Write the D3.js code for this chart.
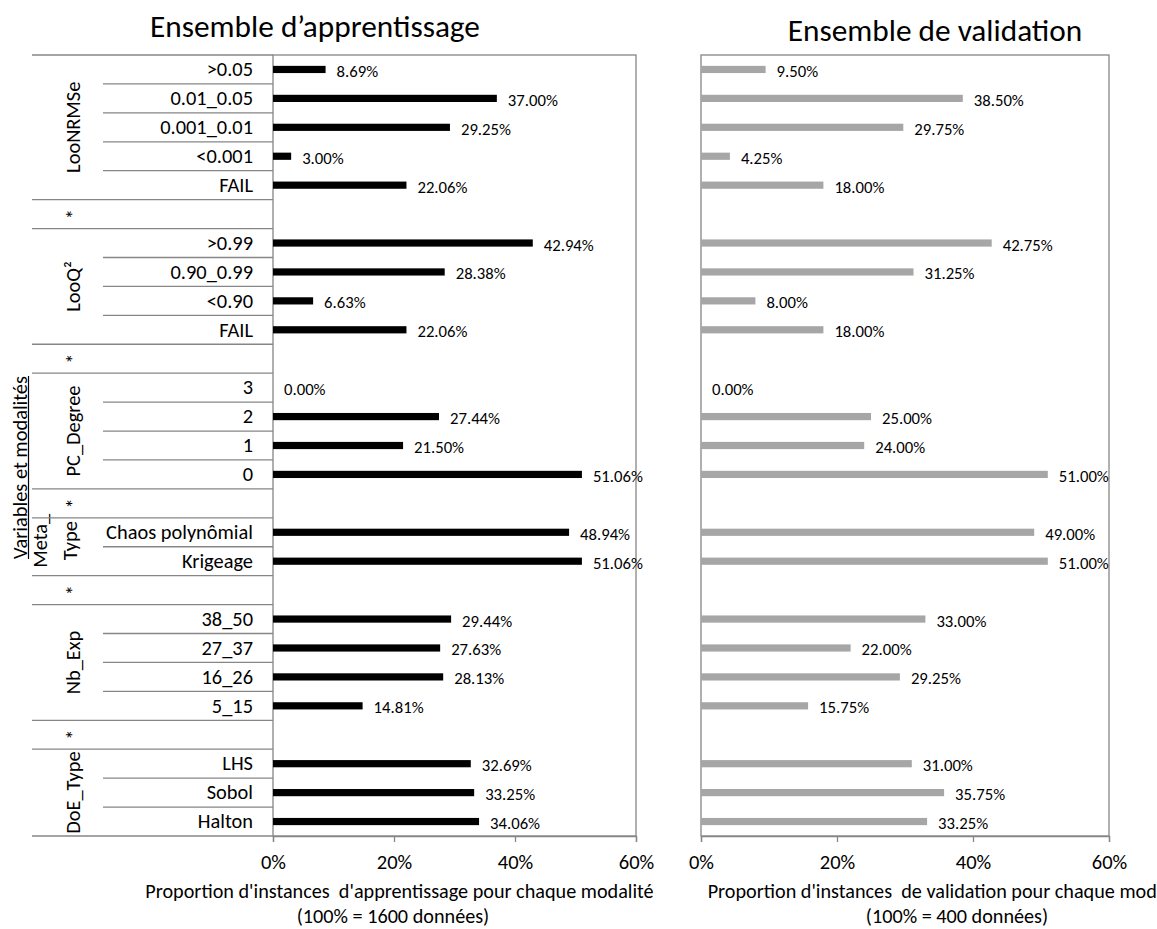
<!DOCTYPE html>
<html><head><meta charset="utf-8">
<script src="https://cdn.jsdelivr.net/npm/d3@7"></script>
<style>
html,body{margin:0;padding:0;background:#fff;}
svg{display:block;font-family:Carlito,Calibri,Lato,sans-serif;}
</style></head>
<body>
<svg id="chart" width="1157" height="929"></svg>
<script>
// ---- data ----
const groupNames = ["LooNRMSe","*","LooQ²","*","PC_Degree","*","Meta_|Type","*","Nb_Exp","*","DoE_Type"];
const groupSizes = [5,1,4,1,4,1,2,1,4,1,3];
const modalities = [">0.05","0.01_0.05","0.001_0.01","<0.001","FAIL","",
  ">0.99","0.90_0.99","<0.90","FAIL","",
  "3","2","1","0","",
  "Chaos polynômial","Krigeage","",
  "38_50","27_37","16_26","5_15","",
  "LHS","Sobol","Halton"];
const trainValues = [8.69,37.00,29.25,3.00,22.06,null,
  42.94,28.38,6.63,22.06,null,
  0.00,27.44,21.50,51.06,null,
  48.94,51.06,null,
  29.44,27.63,28.13,14.81,null,
  32.69,33.25,34.06];
const validValues = [9.50,38.50,29.75,4.25,18.00,null,
  42.75,31.25,8.00,18.00,null,
  0.00,25.00,24.00,51.00,null,
  49.00,51.00,null,
  33.00,22.00,29.25,15.75,null,
  31.00,35.75,33.25];
const xTicks = [0,20,40,60];
const titles = ["Ensemble d\u2019apprentissage","Ensemble de validation"];
const axisTitles = [["Proportion d'instances\u00a0 d'apprentissage pour chaque modalité","(100% = 1600 données)"],
                    ["Proportion d'instances\u00a0 de validation pour chaque modalité","(100% = 400 données)"]];
const yAxisTitle = "Variables et modalités";

// ---- layout ----
const svg = d3.select("#chart");
const plotTop = 55, plotBottom = 836;
const lineCol = "#868686";
const FONT = "Carlito,Calibri,Lato,sans-serif";
const y = d3.scaleBand().domain(d3.range(modalities.length)).range([plotTop, plotBottom]).padding(0);
const panels = [
  {x0:273, x1:636, values:trainValues, color:"#000000", title:titles[0], titleX:315, titleY:37, axisT:axisTitles[0], axisX:[399.5,393]},
  {x0:701, x1:1109, values:validValues, color:"#a6a6a6", title:titles[1], titleX:935, titleY:41, axisT:axisTitles[1], axisX:[950,957]}
];

panels.forEach(p => {
  const x = d3.scaleLinear().domain([0,60]).range([p.x0, p.x1]);
  const g = svg.append("g");
  g.append("rect").attr("x", p.x0).attr("y", plotTop).attr("width", p.x1 - p.x0).attr("height", plotBottom - plotTop)
    .attr("fill","none").attr("stroke", lineCol).attr("stroke-width",1.3);
  const ax = g.append("g").attr("transform", `translate(0,${plotBottom})`)
    .call(d3.axisBottom(x).tickValues(xTicks).tickFormat(d => d + "%").tickSize(6).tickPadding(12));
  ax.select(".domain").attr("stroke", lineCol).attr("stroke-width",1.3);
  ax.selectAll(".tick line").attr("stroke", lineCol).attr("stroke-width",1.3);
  ax.selectAll(".tick text").attr("font-size", 20.5).attr("fill","#000").attr("font-family", FONT);
  const data = p.values.map((v,i) => ({v,i})).filter(d => d.v !== null);
  g.selectAll("rect.bar").data(data).join("rect").attr("class","bar")
    .attr("x", x(0)).attr("y", d => y(d.i) + y.bandwidth()/2 - 3.6)
    .attr("width", d => x(d.v) - x(0)).attr("height", 7.2).attr("fill", p.color);
  g.selectAll("text.val").data(data).join("text").attr("class","val")
    .attr("x", d => x(d.v) + 11).attr("y", d => y(d.i) + y.bandwidth()/2 + 7.5)
    .attr("font-size", 16.7).text(d => d.v.toFixed(2) + "%");
  g.append("text").attr("x", p.titleX).attr("y", p.titleY).attr("text-anchor","middle")
    .attr("font-size", 31.3).text(p.title);
  g.append("text").attr("x", p.axisX[0]).attr("y", 898).attr("text-anchor","middle")
    .attr("font-size", 20.2).text(p.axisT[0]);
  g.append("text").attr("x", p.axisX[1]).attr("y", 923).attr("text-anchor","middle")
    .attr("font-size", 20.2).text(p.axisT[1]);
});

// ---- category axis (multi-level) ----
const cat = svg.append("g");
const xL = 273;
cat.selectAll("text.mod").data(modalities.map((m,i)=>({m,i}))).join("text").attr("class","mod")
  .attr("x", 253).attr("y", d => y(d.i) + y.bandwidth()/2 + 6.8)
  .attr("text-anchor","end").attr("font-size", 20.4).text(d => d.m);
let start = 0;
const boundaries = [];
groupSizes.forEach((s, gi) => {
  boundaries.push({pos: start, outer: true});
  for (let k = 1; k < s; k++) boundaries.push({pos: start + k, outer: false});
  const cy = y(start) + s * y.bandwidth() / 2;
  const name = groupNames[gi];
  const parts = name.split("|");
  if (parts.length === 1) {
    cat.append("text").attr("transform", `translate(79.5,${cy}) rotate(-90)`)
      .attr("text-anchor","middle").attr("font-size", 20.4).text(name);
  } else {
    const bases = [47, 77];
    parts.forEach((pt, k) => {
      cat.append("text").attr("transform", `translate(${bases[k]},${cy - 6}) rotate(-90)`)
        .attr("text-anchor","middle").attr("font-size", 20.4).text(pt);
    });
  }
  start += s;
});
boundaries.push({pos: modalities.length, outer: true});
cat.selectAll("line.b").data(boundaries).join("line").attr("class","b")
  .attr("x1", d => d.outer ? 32 : 103).attr("x2", xL)
  .attr("y1", d => d.pos === modalities.length ? plotBottom : y(d.pos))
  .attr("y2", d => d.pos === modalities.length ? plotBottom : y(d.pos))
  .attr("stroke", lineCol).attr("stroke-width", 1.3);

const ytY = 467.5;
const yt = svg.append("text").attr("transform", `translate(26.5,${ytY}) rotate(-90)`)
  .attr("text-anchor","middle").attr("font-size", 20.4).text(yAxisTitle);
const tl = yt.node().getComputedTextLength();
svg.append("line").attr("x1", 28.5).attr("x2", 28.5).attr("y1", ytY - tl/2).attr("y2", ytY + tl/2)
  .attr("stroke", "#000").attr("stroke-width", 1.2);
</script>
</body></html>
